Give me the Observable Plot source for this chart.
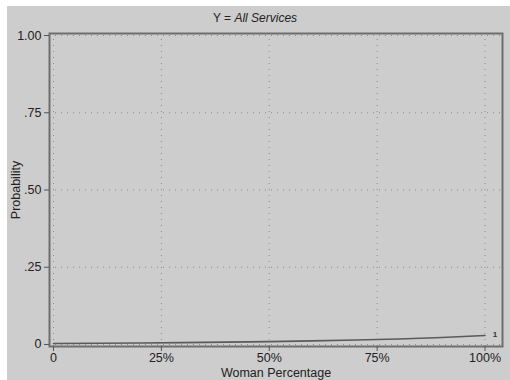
<!DOCTYPE html>
<html>
<head>
<meta charset="utf-8">
<script src="https://cdn.jsdelivr.net/npm/d3@7"></script>
<script src="https://cdn.jsdelivr.net/npm/@observablehq/plot@0.6"></script>
<style>
  html, body { margin: 0; padding: 0; background: #ffffff; }
  #wrap { position: relative; width: 510px; height: 380px; overflow: hidden; }
  #panel { position: absolute; left: 7px; top: 6px; width: 503px; height: 374px; background: #cdcdcd; }
  #chart { position: absolute; left: 0; top: 0; }
  #title { position: absolute; left: 0; width: 510px; top: 11px; text-align: center;
           font: 12px "Liberation Sans", Arial, sans-serif; color: #222; }
  #title i { font-style: italic; }
</style>
</head>
<body>
<div id="wrap">
  <div id="panel"></div>
  <div id="chart"></div>
  <div id="title">Y = <i>All Services</i></div>
</div>
<script>
// Predicted probability of using all services by share of women
const womanShare = [0, 0.1, 0.2, 0.3, 0.4, 0.5, 0.6, 0.7, 0.8, 0.9, 1.0];
const probability = [0.003, 0.0038, 0.0048, 0.006, 0.0075, 0.0093, 0.0116, 0.0145, 0.018, 0.0225, 0.029];
const seriesLabel = "1";

const xTicks = [0, 0.25, 0.5, 0.75, 1];
const xTickLabels = ["0", "25%", "50%", "75%", "100%"];
const yTicks = [0, 0.25, 0.5, 0.75, 1];
const yTickLabels = ["0", ".25", ".50", ".75", "1.00"];

const points = womanShare.map((x, i) => ({x, y: probability[i]}));
const last = points[points.length - 1];

const font = '"Liberation Sans", Arial, sans-serif';
const grid = {stroke: "#8a8a8a", strokeOpacity: 1, strokeWidth: 1, strokeDasharray: "1,5"};

const chart = Plot.plot({
  width: 510,
  height: 380,
  marginLeft: 49,
  marginRight: 8,
  marginTop: 33,
  marginBottom: 34,
  style: {background: "transparent", fontFamily: font, fontSize: "12px", color: "#222"},
  x: {domain: [-0.0093, 1.0405]},
  y: {domain: [-0.0065, 1.0065]},
  marks: [
    Plot.gridX(xTicks, grid),
    Plot.gridY(yTicks, grid),
    Plot.frame({stroke: "#6e6e6e", strokeWidth: 2}),
    Plot.axisX(xTicks, {
      tickSize: 5, tickPadding: 2, stroke: "#555",
      tickFormat: (d, i) => xTickLabels[i],
      label: "Woman Percentage", labelAnchor: "center", labelArrow: "none",
      labelOffset: 30, fontSize: 12.5
    }),
    Plot.axisY(yTicks, {
      tickSize: 5, tickPadding: 3, stroke: "#555",
      tickFormat: (d, i) => yTickLabels[i],
      label: "Probability", labelAnchor: "center", labelArrow: "none",
      labelOffset: 38, fontSize: 12.5
    }),
    Plot.line(points, {x: "x", y: "y", stroke: "#5a5a5a", strokeWidth: 1.6}),
    Plot.text([last], {x: "x", y: "y", text: () => seriesLabel, dx: 10, dy: -1, fontSize: 8, fontWeight: "bold", fill: "#333"})
  ]
});
document.getElementById("chart").appendChild(chart);
</script>
</body>
</html>
